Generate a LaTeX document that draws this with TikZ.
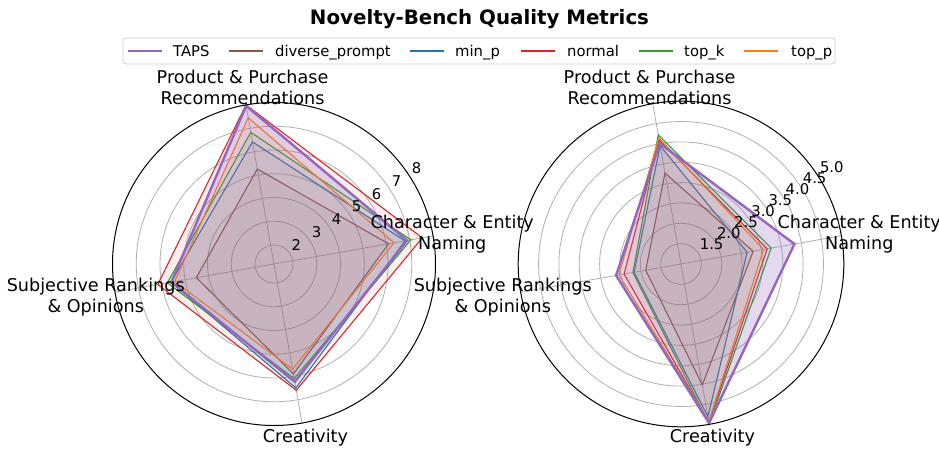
\documentclass[tikz,border=0pt]{standalone}
\usepackage{fontspec}
\setmainfont{DejaVu Sans}
\usetikzlibrary{calc}
\definecolor{cpurple}{HTML}{9467BD}
\definecolor{cbrown}{HTML}{8C564B}
\definecolor{cblue}{HTML}{1F77B4}
\definecolor{cred}{HTML}{D62728}
\definecolor{cgreen}{HTML}{2CA02C}
\definecolor{corange}{HTML}{FF7F0E}
\definecolor{gridgray}{HTML}{B0B0B0}
\definecolor{legendgray}{HTML}{CCCCCC}
\begin{document}
\begin{tikzpicture}[x=1pt,y=1pt,
  gridc/.style={draw=gridgray, line width=0.8pt},
  spine/.style={draw=black, line width=1pt},
  ticklab/.style={font=\fontsize{14.8}{17}\selectfont, anchor=base west, inner sep=0pt},
  axlab/.style={font=\fontsize{17.6}{21.1}\selectfont, align=center, inner sep=0pt},
  leglab/.style={font=\fontsize{14.8}{17}\selectfont, anchor=base west, inner sep=0pt},
  titlelab/.style={font=\fontsize{19.8}{24}\selectfont\bfseries, anchor=base, inner sep=0pt},
  legline/.style={line width=1.2pt}
]
\useasboundingbox (0,0) rectangle (939,448);
\coordinate (L) at (274,184);
\coordinate (R) at (681,184);

% ---------- left chart ----------
\foreach \v in {2,...,7} \draw[gridc] (L) circle ({(\v-1.2)*23.75});
\foreach \a in {10,100,190,280} \draw[gridc] (L) -- ($(L)+(\a:161.5)$);
\foreach \col/\op/\lw/\va/\vb/\vc/\vd in {
  cbrown/0.08/1.1/6.1/5.26/4.52/5.9,
  cblue/0.08/1.1/6.8/6.42/5.6/6.5,
  cred/0.08/1.1/7.54/8.0/6.17/6.6,
  cgreen/0.08/1.1/7.05/6.83/5.76/6.1,
  corange/0.08/1.1/6.33/7.45/5.45/5.7,
  cpurple/0.25/2.4/6.89/7.96/5.59/6.24}
  \filldraw[draw=\col, fill=\col, fill opacity=\op, line width=\lw pt, line join=miter]
    ($(L)+(10:{(\va-1.2)*23.75})$) -- ($(L)+(100:{(\vb-1.2)*23.75})$) --
    ($(L)+(190:{(\vc-1.2)*23.75})$) -- ($(L)+(280:{(\vd-1.2)*23.75})$) -- cycle;
\draw[spine] (L) circle (161.5);
\foreach \v in {2,...,8}
  \node[ticklab] (lt\v) at ($(L)+(32.5:{(\v-1.2)*23.75})+(1.5,3.6)$) {\v};
\node[axlab] (lA) at ($(L)+(10:181)+(0,-1.5)$) {Character \& Entity\\Naming};
\node[axlab] (lB) at ($(L)+(100:181)+(0,-1.5)$) {Product \& Purchase\\Recommendations};
\node[axlab] (lC) at ($(L)+(190:181)+(0,-1.5)$) {Subjective Rankings\\\& Opinions};
\node[axlab] (lD) at ($(L)+(280:181)+(0,5)$) {Creativity};

% ---------- right chart ----------
\foreach \v in {1.5,2.0,2.5,3.0,3.5,4.0,4.5} \draw[gridc] (R) circle ({(\v-1)*40.7});
\foreach \a in {10,100,190,280} \draw[gridc] (R) -- ($(R)+(\a:162.8)$);
\foreach \col/\op/\lw/\va/\vb/\vc/\vd in {
  cbrown/0.08/1.1/2.8/3.27/1.88/4.02,
  cblue/0.08/1.1/2.65/3.95/2.17/4.81,
  cred/0.08/1.1/3.15/4.1/2.42/4.95,
  cgreen/0.08/1.1/3.25/4.22/2.2/4.99,
  corange/0.08/1.1/3.06/4.15/2.55/4.93,
  cpurple/0.25/2.4/3.83/4.01/2.62/4.97}
  \filldraw[draw=\col, fill=\col, fill opacity=\op, line width=\lw pt, line join=miter]
    ($(R)+(10:{(\va-1)*40.7})$) -- ($(R)+(100:{(\vb-1)*40.7})$) --
    ($(R)+(190:{(\vc-1)*40.7})$) -- ($(R)+(280:{(\vd-1)*40.7})$) -- cycle;
\draw[spine] (R) circle (162.8);
\foreach \v [count=\i] in {1.5,2.0,2.5,3.0,3.5,4.0,4.5,5.0}
  \node[ticklab] (rt\i) at ($(R)+(32.5:{(\v-1)*40.7})+(1.5,3.6)$) {\v};
\node[axlab] (rA) at ($(R)+(10:181)+(0,-1.5)$) {Character \& Entity\\Naming};
\node[axlab] (rB) at ($(R)+(100:181)+(0,-1.5)$) {Product \& Purchase\\Recommendations};
\node[axlab] (rC) at ($(R)+(190:181)+(0,-1.5)$) {Subjective Rankings\\\& Opinions};
\node[axlab] (rD) at ($(R)+(280:181)+(0,5)$) {Creativity};

% ---------- title and legend ----------
\node[titlelab] (title) at (479.5,423.6) {Novelty-Bench Quality Metrics};
\draw[draw=legendgray, fill=white, fill opacity=0.8, rounded corners=3pt, line width=0.8pt]
  (123,384) rectangle (835,410);
\draw[cpurple, line width=2.5pt] (128,397) -- (162,397);
\node[leglab] (g1) at (173,391.6) {TAPS};
\draw[cbrown, legline] (229,397) -- (263,397);
\node[leglab] (g2) at (275,391.6) {diverse\_prompt};
\draw[cblue, legline] (410,397) -- (444,397);
\node[leglab] (g3) at (455,391.6) {min\_p};
\draw[cred, legline] (521,397) -- (555,397);
\node[leglab] (g4) at (567,391.6) {normal};
\draw[cgreen, legline] (639,397) -- (673,397);
\node[leglab] (g5) at (684,391.6) {top\_k};
\draw[corange, legline] (744,397) -- (778,397);
\node[leglab] (g6) at (791,391.6) {top\_p};
\end{tikzpicture}
\end{document}
